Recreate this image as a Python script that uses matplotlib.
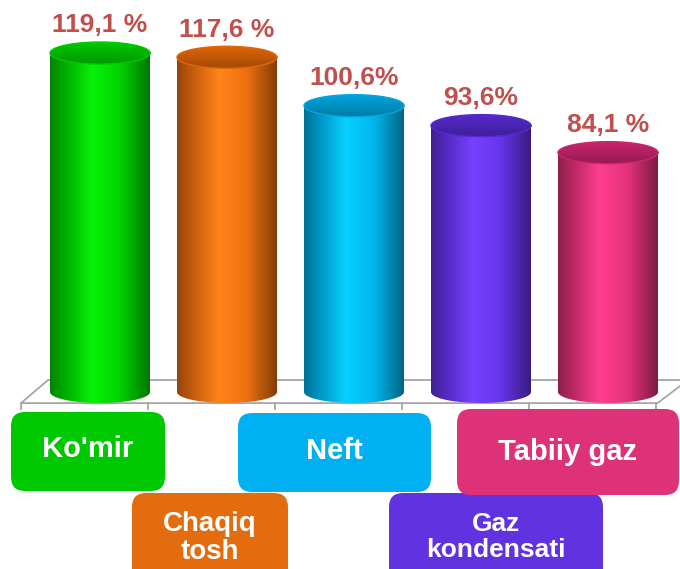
import numpy as np
import matplotlib
matplotlib.use("Agg")
import matplotlib.pyplot as plt
from matplotlib.colors import LinearSegmentedColormap, to_rgb
from matplotlib.patches import Polygon, FancyBboxPatch

# =========================
# DATA
# =========================
categories = ["Ko'mir", "Chaqiq\ntosh", "Neft", "Gaz\nkondensati", "Tabiiy gaz"]
values = [119.1, 117.6, 100.6, 93.6, 84.1]
value_labels = ["119,1 %", "117,6 %", "100,6%", "93,6%", "84,1 %"]

# body colour / top colour / label box colour
body_colors = ["#00D400", "#EE7010", "#00B6EE", "#6634EA", "#E4327A"]
top_colors = ["#00B000", "#C25808", "#0090C2", "#4A24B2", "#B02060"]
box_colors = ["#00C800", "#E26C0E", "#00B0F0", "#6032E0", "#DE3278"]

LABEL_COLOR = "#C0504D"
FONT = "Liberation Sans"

W, H = 680, 569
fig = plt.figure(figsize=(W / 100, H / 100), dpi=100)

# main axes: x = category index, y = value (scale ~2.85 px per unit)
ax = fig.add_axes([0, 0, 1, 1])
ax.set_axis_off()
x0_px, y0_px, px_per_cat, px_per_val = 100, 392, 127, 2.846
xlim = (-x0_px / px_per_cat, (W - x0_px) / px_per_cat)
ylim = ((y0_px - H) / px_per_val, y0_px / px_per_val)

half_w = 50 / px_per_cat      # cylinder radius (x units)
half_h = 11 / px_per_val      # ellipse half height (y units)


def shade(base, dark=0.62, light=1.1):
    c = np.array(to_rgb(base))
    lo = np.clip(c * dark, 0, 1)
    mid = np.clip(c * 0.85, 0, 1)
    hi = np.clip(c * light + 0.03, 0, 1)
    return LinearSegmentedColormap.from_list(
        "cyl", [(0, lo), (0.18, mid), (0.42, hi), (0.7, c), (1, np.clip(c * 0.55, 0, 1))]
    )


t = np.linspace(0, np.pi, 60)
grad = np.linspace(0, 1, 256).reshape(1, -1)

# floor (perspective plane)
floor_front, floor_back = -3.9, 4.2
fl_left_front, fl_left_back = -0.622, -0.41
fl_right_front, fl_right_back = 4.39, 4.63
floor = Polygon([(fl_left_front, floor_front), (fl_right_front, floor_front),
                 (fl_right_back, floor_back), (fl_left_back, floor_back)],
                closed=True, facecolor="white", edgecolor="#A6A6A6", lw=1.3, zorder=1)
ax.add_patch(floor)
for k in range(6):
    xt = fl_left_front + k
    ax.plot([xt, xt], [floor_front, floor_front - 2.2], color="#A6A6A6", lw=1.3, zorder=1)

for i, (v, bc, tc) in enumerate(zip(values, body_colors, top_colors)):
    c = i
    # body: rectangle + bottom half ellipse
    xs = np.concatenate([[c - half_w], c - half_w * np.cos(t), [c + half_w]])
    ys = np.concatenate([[v], 0 - half_h * np.sin(t), [v]])
    body = Polygon(np.column_stack([xs, ys]), closed=True, facecolor="none",
                   edgecolor="none", zorder=3)
    ax.add_patch(body)
    im = ax.imshow(grad, cmap=shade(bc), aspect="auto", zorder=3,
                   extent=(c - half_w, c + half_w, -half_h, v), interpolation="bilinear")
    im.set_clip_path(body)

    # top ellipse
    tt = np.linspace(0, 2 * np.pi, 120)
    top = Polygon(np.column_stack([c + half_w * np.cos(tt), v + half_h * np.sin(tt)]),
                  closed=True, facecolor="none", edgecolor="none", zorder=4)
    ax.add_patch(top)
    tcol = np.array(to_rgb(tc))
    top_cmap = LinearSegmentedColormap.from_list(
        "top", [np.clip(tcol * 0.85, 0, 1), tcol, np.clip(tcol * 1.15, 0, 1)])
    gy = np.linspace(1, 0, 64).reshape(-1, 1) * np.ones((1, 64))
    im2 = ax.imshow(gy, cmap=top_cmap, aspect="auto", zorder=4,
                    extent=(c - half_w, c + half_w, v - half_h, v + half_h),
                    interpolation="bilinear")
    im2.set_clip_path(top)
    # lighter rim on the top
    ax.plot(c + half_w * np.cos(tt), v + half_h * np.sin(tt),
            color=np.clip(tcol * 1.15, 0, 1), lw=1.0, zorder=5)

    ax.text(c, v + half_h + 1.6, value_labels[i], ha="center", va="bottom",
            fontsize=19, fontweight="bold", color=LABEL_COLOR, family=FONT, zorder=6)

ax.set_xlim(*xlim)
ax.set_ylim(*ylim)

# label boxes (overlay in pixel units)
bx = fig.add_axes([0, 0, 1, 1])
bx.set_axis_off()
bx.set_xlim(0, W)
bx.set_ylim(H, 0)
bx.patch.set_alpha(0)

box_geom = [(11, 412, 154, 79), (132, 493, 156, 90), (238, 413, 193, 79),
            (389, 493, 214, 90), (457, 409, 222, 86)]
text_pos = [(88, 449), (210, 538), (334, 451), (496, 537), (568, 452)]
font_sizes = [21, 20, 21, 19, 21]

for (x, y, w, h), (tx, ty), fs, col, lab in zip(box_geom, text_pos, font_sizes,
                                                box_colors, categories):
    box = FancyBboxPatch((x + 12, y + 12), w - 24, h - 24,
                         boxstyle="round,pad=12,rounding_size=14",
                         facecolor=col, edgecolor="none", zorder=2)
    bx.add_patch(box)
    bx.text(tx, ty, lab, ha="center", va="center", color="white", fontsize=fs,
            fontweight="bold", family=FONT, linespacing=1.1, zorder=3)

fig.savefig("out.png", dpi=100)
